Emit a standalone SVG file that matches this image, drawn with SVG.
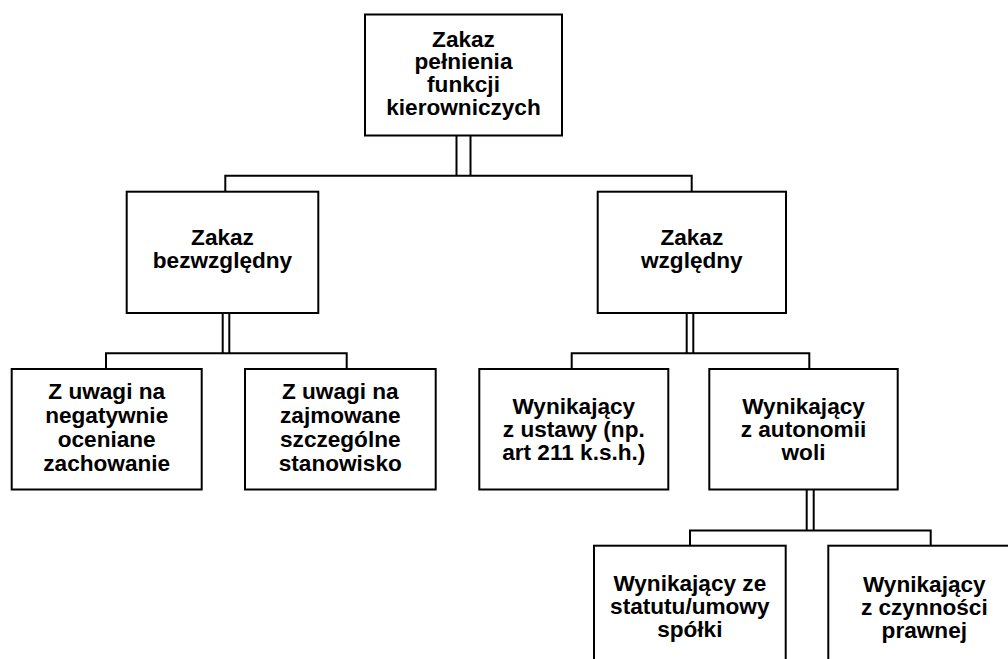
<svg xmlns="http://www.w3.org/2000/svg" width="1008" height="659" viewBox="0 0 1008 659">
<style>
.box{fill:#fff;stroke:#000;stroke-width:2}
.c{fill:none;stroke:#000;stroke-width:2}
text{font-family:"Liberation Sans",Arial,sans-serif;font-weight:bold;font-size:22.6px;fill:#000;text-anchor:middle}
</style>
<rect width="1008" height="659" fill="#fff"/>
<g id="connectors">
<path class="c" d="M456.5,135.5V175.7M470.5,135.5V175.7"/>
<path class="c" d="M225.3,191.7V175.7H691.7V191.7"/>
<path class="c" d="M222.7,313V353.3M229.3,313V353.3"/>
<path class="c" d="M106,369V353.3H346.7V369"/>
<path class="c" d="M686.7,313V353.3M693.3,313V353.3"/>
<path class="c" d="M571.7,369V353.3H809.3V369"/>
<path class="c" d="M806.7,490V530.5M813.7,490V530.5"/>
<path class="c" d="M690,545.7V530.5H930.7V545.7"/>
</g>
<g id="n_root">
<rect class="box" x="365" y="14.5" width="197" height="121"/>
<text x="463.5" y="46.5">Zakaz</text>
<text x="463.5" y="69.2">pełnienia</text>
<text x="463.5" y="91.9">funkcji</text>
<text x="463.5" y="114.6">kierowniczych</text>
</g>
<g id="n_bezwzgledny">
<rect class="box" x="126.7" y="191.7" width="191.6" height="121.3"/>
<text x="222.5" y="245">Zakaz</text>
<text x="222.5" y="268.3">bezwzględny</text>
</g>
<g id="n_wzgledny">
<rect class="box" x="597.7" y="191.7" width="188.3" height="121.3"/>
<text x="691.8" y="245">Zakaz</text>
<text x="691.8" y="268.3">względny</text>
</g>
<g id="n_negatywnie">
<rect class="box" x="11.7" y="369" width="190" height="120.5"/>
<text x="106.7" y="399">Z uwagi na</text>
<text x="106.7" y="423">negatywnie</text>
<text x="106.7" y="447">oceniane</text>
<text x="106.7" y="471">zachowanie</text>
</g>
<g id="n_stanowisko">
<rect class="box" x="245" y="369" width="190.7" height="120.5"/>
<text x="340.3" y="399">Z uwagi na</text>
<text x="340.3" y="423">zajmowane</text>
<text x="340.3" y="447">szczególne</text>
<text x="340.3" y="471">stanowisko</text>
</g>
<g id="n_ustawa">
<rect class="box" x="479.3" y="369" width="189" height="120.5"/>
<text x="573.8" y="414.3">Wynikający</text>
<text x="573.8" y="437.3">z ustawy (np.</text>
<text x="573.8" y="460.3">art 211 k.s.h.)</text>
</g>
<g id="n_autonomia">
<rect class="box" x="709.3" y="369" width="188.4" height="120.5"/>
<text x="803.5" y="414.3">Wynikający</text>
<text x="803.5" y="437.3">z autonomii</text>
<text x="803.5" y="460.3">woli</text>
</g>
<g id="n_statut">
<rect class="box" x="594" y="545.7" width="191.7" height="130"/>
<text x="689.8" y="591.3">Wynikający ze</text>
<text x="689.8" y="614.3">statutu/umowy</text>
<text x="689.8" y="637.3">spółki</text>
</g>
<g id="n_czynnosc">
<rect class="box" x="828.3" y="545.7" width="192" height="130"/>
<text x="924.3" y="592">Wynikający</text>
<text x="924.3" y="615">z czynności</text>
<text x="924.3" y="638">prawnej</text>
</g>
</svg>
